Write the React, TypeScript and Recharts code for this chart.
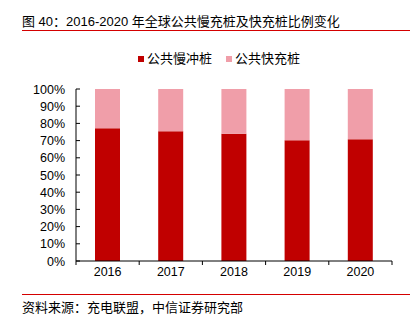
import { BarChart, Bar, XAxis, YAxis } from 'recharts';

const years = ['2016', '2017', '2018', '2019', '2020'];
const slowShare = [77.2, 75.4, 74.0, 70.2, 70.8];
const fastShare = [22.8, 24.6, 26.0, 29.8, 29.2];
const yTicks = [0, 10, 20, 30, 40, 50, 60, 70, 80, 90, 100];

const seriesNames = ['公共慢冲桩', '公共快充桩'];
const seriesColors = ['#C00000', '#F09EA9'];

const W = 411;
const H = 322;
const M = { top: 89, right: 19, bottom: 31, left: 16 };
const Y_AXIS_W = 60;
const X_AXIS_H = 30;
const BAND = (W - M.left - M.right - Y_AXIS_W) / years.length;

const FONT = '"Liberation Sans", Arial, "Noto Sans CJK SC", sans-serif';

const data = years.map((y, i) => ({ year: y, slow: slowShare[i], fast: fastShare[i] }));

const YTick = ({ x, y, payload }: any) => (
  <g>
    <line x1={x} x2={x + 4} y1={y} y2={y} stroke="#000" strokeWidth={1} />
    <text x={x - 11} y={y} dy={4.5} textAnchor="end" fontSize={12.5} fill="#000" fontFamily={FONT}>
      {payload.value}%
    </text>
  </g>
);

const XTick = ({ x, y, payload, index }: any) => (
  <g>
    <line x1={x - BAND / 2} x2={x - BAND / 2} y1={y} y2={y + 4} stroke="#000" strokeWidth={1} />
    {index === years.length - 1 && (
      <line x1={x + BAND / 2} x2={x + BAND / 2} y1={y} y2={y + 4} stroke="#000" strokeWidth={1} />
    )}
    <text x={x} y={y} dy={14.5} textAnchor="middle" fontSize={12.5} fill="#000" fontFamily={FONT}>
      {payload.value}
    </text>
  </g>
);

export default function App() {
  return (
    <div style={{ position: 'absolute', left: 0, top: 0, width: W, height: H, background: '#fff', fontFamily: FONT, color: '#000' }}>
      <div style={{ position: 'absolute', left: 22, top: 14, fontSize: 13, lineHeight: '15px', whiteSpace: 'nowrap' }}>
        图 40：2016-2020 年全球公共慢充桩及快充桩比例变化
      </div>
      <div style={{ position: 'absolute', left: 22, top: 30, width: 388, height: 1, background: '#D40000' }} />

      <div style={{ position: 'absolute', left: 138, top: 51, display: 'flex', alignItems: 'center', fontSize: 13, lineHeight: '15px', whiteSpace: 'nowrap' }}>
        {seriesNames.map((n, i) => (
          <div key={n} style={{ display: 'flex', alignItems: 'center', marginRight: i === 0 ? 14 : 0 }}>
            <span style={{ width: 6, height: 6, background: seriesColors[i], marginRight: 3, display: 'inline-block' }} />
            <span>{n}</span>
          </div>
        ))}
      </div>

      <div style={{ position: 'absolute', left: 0, top: 0 }}>
        <BarChart width={W} height={H} data={data} margin={M} barSize={25}>
          <YAxis
            type="number"
            domain={[0, 100]}
            ticks={yTicks}
            interval={0}
            width={Y_AXIS_W}
            axisLine={{ stroke: '#000', strokeWidth: 1 }}
            tickLine={false}
            tickSize={0}
            tickMargin={0}
            tick={<YTick />}
          />
          <XAxis
            dataKey="year"
            height={X_AXIS_H}
            axisLine={{ stroke: '#000', strokeWidth: 1 }}
            tickLine={false}
            tickSize={0}
            tickMargin={0}
            interval={0}
            tick={<XTick />}
          />
          <Bar dataKey="slow" stackId="a" fill={seriesColors[0]} isAnimationActive={false} />
          <Bar dataKey="fast" stackId="a" fill={seriesColors[1]} isAnimationActive={false} />
        </BarChart>
      </div>

      <div style={{ position: 'absolute', left: 22, top: 294, width: 388, height: 1, background: '#D40000' }} />
      <div style={{ position: 'absolute', left: 22, top: 300, fontSize: 13, lineHeight: '15px', whiteSpace: 'nowrap' }}>
        资料来源：充电联盟，中信证券研究部
      </div>
    </div>
  );
}
